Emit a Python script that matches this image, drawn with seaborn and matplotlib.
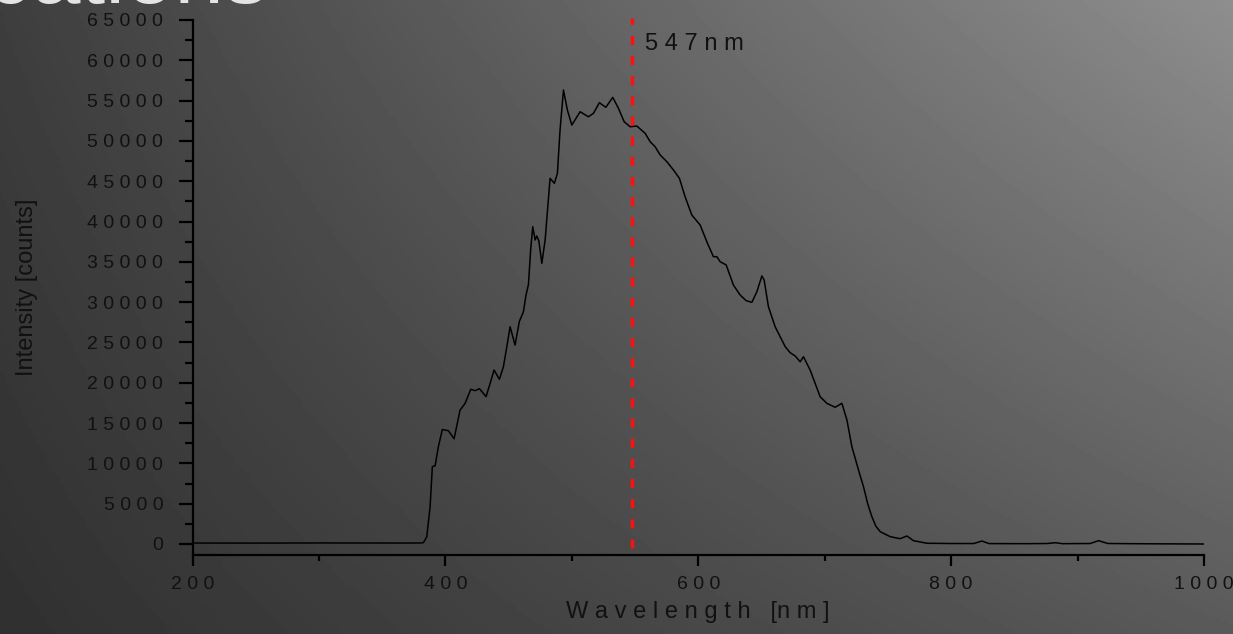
import numpy as np
import pandas as pd
import matplotlib
matplotlib.use('Agg')
import matplotlib.pyplot as plt
import seaborn as sns

# spectrum (wavelength in nm, intensity in counts)
wavelength = [200, 250, 300, 350, 375, 380.5, 382.6, 385.3, 387.9, 389.7, 391.9, 394.5,
              397.6, 402.4, 406.9, 411.6, 415.6, 420.1, 423.5, 426.9, 432.2, 435.4,
              438.5, 442.7, 445.9, 448.6, 451.2, 455.1, 458.5, 461.7, 463.8, 465.7,
              467.5, 469.1, 471.0, 472.3, 473.9, 476.3, 478.9, 482.8, 486.2, 488.6,
              490.7, 493.4, 496.5, 500.0, 506.6, 513.1, 517.1, 521.8, 526.9, 532.4,
              536.9, 541.4, 546.1, 551.4, 558.0, 562.0, 565.9, 569.9, 575.2, 580.4,
              585.1, 589.6, 594.9, 601.5, 607.3, 612.0, 614.7, 617.3, 622.1, 627.8,
              633.1, 637.9, 642.4, 646.4, 650.3, 652.1, 655.5, 660.8, 664.8, 668.8,
              672.7, 676.7, 680.6, 683.2, 688.5, 696.4, 701.7, 708.3, 713.6, 717.6,
              721.5, 727.5, 730.7, 734.0, 737.3, 740.5, 743.9, 751.8, 759.7, 765.0,
              770.3, 780.9, 800, 818, 824.3, 830, 860, 876, 882.4, 888, 910, 916.6,
              924, 950, 1000]
intensity = [120, 110, 130, 120, 120, 130, 160, 900, 4600, 9600, 9700, 12100,
             14200, 14050, 13060, 16600, 17450, 19190, 19020, 19270, 18280, 19930,
             21580, 20430, 21990, 24470, 26950, 24680, 27600, 28800, 30900, 32200,
             36600, 39360, 37710, 38200, 37620, 34820, 37710, 45360, 44740, 45980,
             51350, 56310, 53830, 51970, 53620, 53000, 53420, 54740, 54170, 55400,
             54040, 52380, 51760, 51850, 50940, 49900, 49280, 48250, 47420, 46390,
             45360, 43080, 40810, 39570, 37300, 35640, 35640, 35020, 34610, 32130,
             30890, 30180, 29980, 31300, 33250, 32750, 29440, 26950, 25710, 24470,
             23730, 23320, 22610, 23230, 21580, 18270, 17450, 16960, 17450, 15380,
             12070, 8770, 7110, 5000, 3390, 2200, 1530, 910, 660, 990,
             410, 90, 60, 60, 370, 50, 40, 60, 160, 40, 60, 410,
             60, 30, 0]

peak_nm = 547.5
peak_label = '547nm'
x_ticks = [200, 400, 600, 800, 1000]
y_ticks = list(range(0, 65001, 5000))

df = pd.DataFrame({'Wavelength': wavelength, 'Intensity': intensity})

sns.set_theme(style='ticks')
plt.rcParams['font.family'] = ['Liberation Sans', 'DejaVu Sans']

fig = plt.figure(figsize=(12.33, 6.34), dpi=100)

# gradient backdrop (dark left, lighter top right)
bg = fig.add_axes([0, 0, 1, 1], zorder=-10)
u = np.linspace(0, 1, 400)[None, :]
t = np.linspace(0, 1, 200)[:, None]
grad = (62 * (1 - u) * (1 - t) + 142 * u * (1 - t) + 48 * (1 - u) * t + 90 * u * t) / 255
bg.imshow(grad, cmap='gray', vmin=0, vmax=1, aspect='auto', extent=[0, 1, 0, 1])
bg.axis('off')

# clipped slide title peeking in at the top
fig.text(0.218, 1 - 3 / 634, 'Applications', color='#e4e4e4', fontsize=64,
         ha='right', va='baseline')

ax = fig.add_axes([192.5 / 1233, 1 - 555 / 634, (1204 - 192.5) / 1233, (555 - 20) / 634])
ax.set_facecolor('none')

sns.lineplot(data=df, x='Wavelength', y='Intensity', color='black', linewidth=1.1, ax=ax)
ax.vlines(peak_nm, -500, 65300, colors='#ff1010', linewidth=2.5,
          linestyles=(0, (2.6, 3.2)), clip_on=False, zorder=5)
ax.text(peak_nm + 10, 62000, ' '.join(peak_label), fontsize=17, color='#111111',
        va='center', ha='left')

ax.set_xlim(200, 1000)
ax.set_ylim(-1365, 65000)
ax.set_xticks(x_ticks)
ax.set_xticklabels([' '.join(str(v)) for v in x_ticks])
ax.set_xticks(range(300, 1000, 200), minor=True)
ax.set_yticks(y_ticks)
ax.set_yticklabels([' '.join(str(v)) for v in y_ticks])
ax.set_yticks(range(2500, 65000, 5000), minor=True)

sns.despine(ax=ax)
for side in ['left', 'bottom']:
    ax.spines[side].set_linewidth(1.6)
    ax.spines[side].set_color('black')
ax.tick_params(axis='x', which='major', length=8, width=1.6, pad=7, labelsize=14,
               colors='black', labelcolor='#111111')
ax.tick_params(axis='x', which='minor', length=4.5, width=1.6, colors='black')
ax.tick_params(axis='y', which='major', length=10, width=1.6, pad=11, labelsize=14,
               colors='black', labelcolor='#111111')
ax.tick_params(axis='y', which='minor', length=6, width=1.6, colors='black')

ax.set_xlabel('W a v e l e n g t h   [n m ]', fontsize=17, color='#111111', labelpad=6)
ax.set_ylabel('Intensity [counts]', fontsize=17, color='#111111')
ax.yaxis.set_label_coords(-0.153, 0.5)

fig.savefig('out.png', dpi=100)
